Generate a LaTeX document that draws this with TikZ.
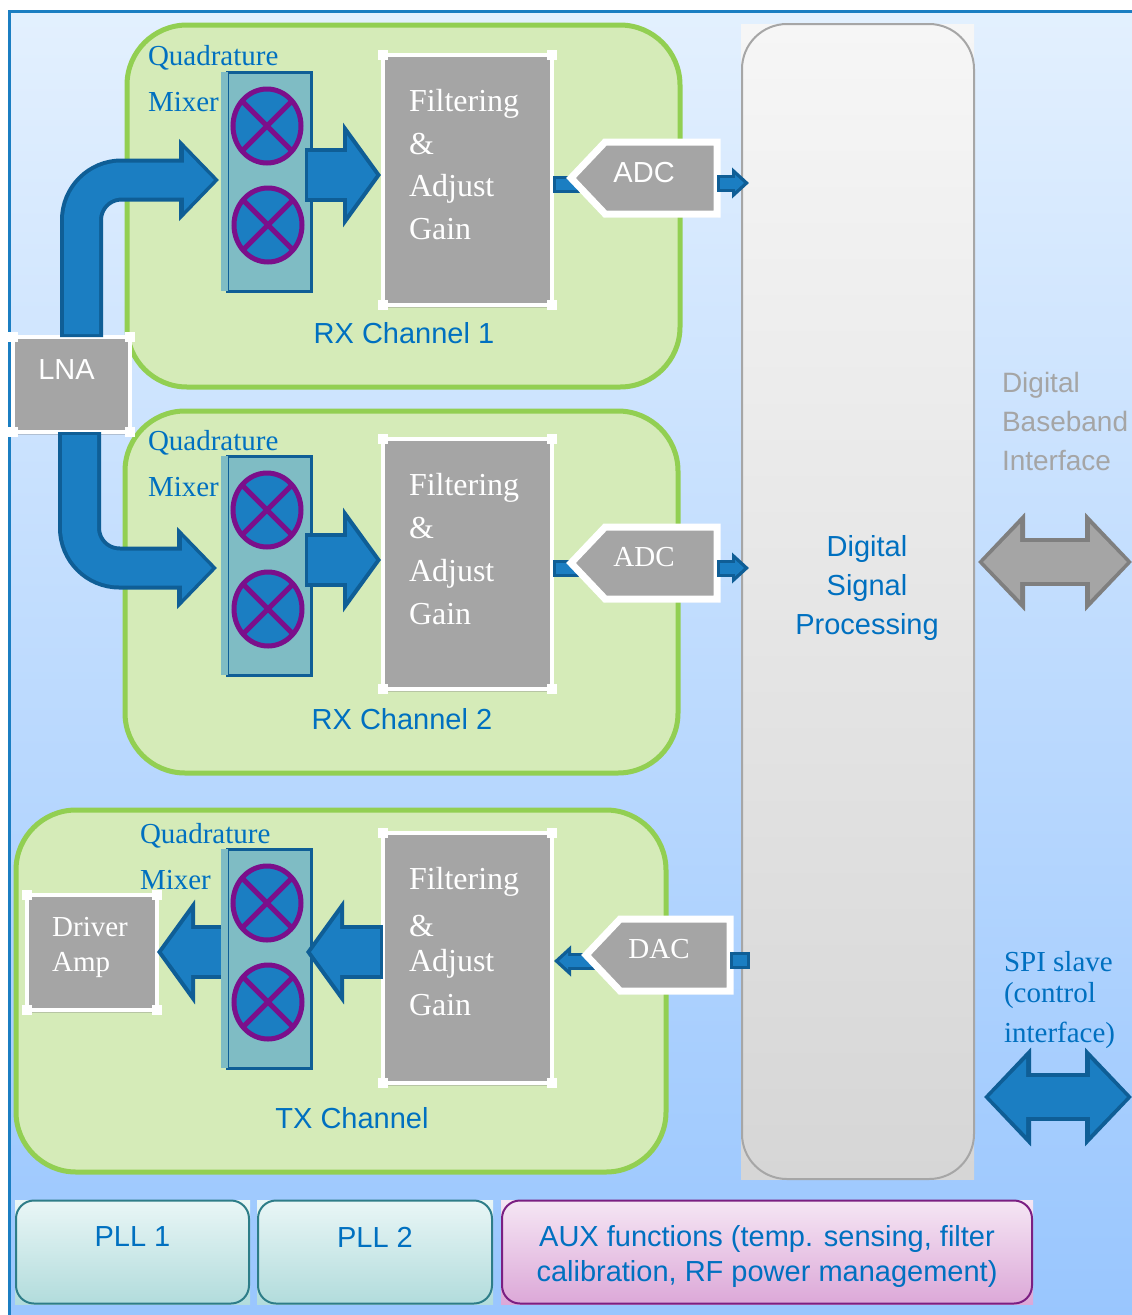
\documentclass[tikz,border=0pt]{standalone}
\usepackage{fontspec}
\setmainfont{Liberation Serif}
\setsansfont{Liberation Sans}
\usetikzlibrary{arrows.meta,shapes.geometric,shapes.symbols,shadows}
\definecolor{frameblue}{HTML}{1B7EC2}
\definecolor{skytop}{HTML}{E3F0FE}
\definecolor{skybottom}{HTML}{99C6FE}
\definecolor{panelfill}{HTML}{D5EBB8}
\definecolor{paneledge}{HTML}{92CF52}
\definecolor{textblue}{HTML}{0070C0}
\definecolor{blockgrey}{HTML}{A5A5A5}
\definecolor{arrowfill}{HTML}{1B7EC2}
\definecolor{arrowedge}{HTML}{0F5E96}
\definecolor{greyedge}{HTML}{7F7F7F}
\definecolor{mixerfill}{HTML}{7FBCC4}
\definecolor{multedge}{HTML}{7B0F8B}
\definecolor{dsptop}{HTML}{F6F6F6}
\definecolor{dspbottom}{HTML}{D6D6D6}
\definecolor{plltop}{HTML}{E9F6F6}
\definecolor{pllbottom}{HTML}{B2DCDC}
\definecolor{plledge}{HTML}{2E7D88}
\definecolor{auxtop}{HTML}{F5E6F4}
\definecolor{auxbottom}{HTML}{DCA8D8}
\definecolor{auxedge}{HTML}{7B1F82}

\begin{document}
\begin{tikzpicture}[x=1pt, y=-1pt, outer sep=0pt,
	panel/.style={rectangle, draw=paneledge, fill=panelfill, line width=5pt, rounded corners=60pt, minimum width=553pt, minimum height=362pt},
	bluetext/.style={text=textblue, font=\fontsize{29}{35}\selectfont\sffamily},
	quadtext/.style={text=textblue, font=\fontsize{29}{46}\selectfont\rmfamily, align=left, anchor=north west, inner sep=0pt},
	block/.style={rectangle, fill=blockgrey, draw=white, line width=4pt, text=white, drop shadow={opacity=.35, shadow xshift=1pt, shadow yshift=-3pt}},
	filter/.style={block, minimum width=169pt, minimum height=250pt, inner xsep=0pt, text width=117pt, align=left, font=\fontsize{32}{43}\selectfont\rmfamily},
	handle/.style={rectangle, fill=white, minimum size=10pt, inner sep=0pt},
	converter/.style={block, shape=signal, signal to=west, signal from=nowhere, signal pointer angle=93, line width=7pt, minimum width=146pt, minimum height=72pt, inner sep=0pt, text depth=12pt},
	mixer/.style={rectangle, fill=mixerfill, draw=arrowedge, line width=3pt, minimum width=84pt, minimum height=219pt},
	mixerback/.style={rectangle, fill=mixerfill, minimum width=5pt, minimum height=219pt},
	mult/.style={ellipse, fill=arrowfill, draw=multedge, line width=5pt, minimum width=68pt, minimum height=74pt, inner sep=0pt},
	blockarrow/.style n args={6}{draw=arrowfill, line width=#4pt, shorten >=5pt, shorten <=3pt, -{Triangle[length=#5pt, width=#6pt]},
		preaction={draw=arrowedge, line width=#1pt, shorten >=0pt, shorten <=0pt, -{Triangle[length=#2pt, width=#3pt]}}},
	bigarrow/.style={blockarrow={43}{40}{80}{35}{30}{60}, rounded corners=40pt},
	midarrow/.style={blockarrow={54}{38}{103}{46}{29}{78}},
	smallarrow/.style={blockarrow={17}{17}{30}{11}{9}{16}},
	stub/.style={draw=arrowfill, line width=11pt, shorten <=3pt, shorten >=3pt, preaction={draw=arrowedge, line width=17pt, shorten <=0pt, shorten >=0pt}},
	twoway/.style n args={2}{draw=#1, line width=40pt, shorten >=5pt, shorten <=5pt, {Triangle[length=37pt, width=74pt]}-{Triangle[length=37pt, width=74pt]},
		preaction={draw=#2, line width=48pt, shorten >=0pt, shorten <=0pt, {Triangle[length=47pt, width=96pt]}-{Triangle[length=47pt, width=96pt]}}},
	softbox/.style={rectangle, rounded corners=18pt, line width=2pt, minimum height=103pt, text=textblue, align=center, font=\fontsize{29}{35}\selectfont\sffamily}]
	\useasboundingbox (0,0) rectangle (1132,1315);
	\fill[white] (0,0) rectangle (1132,1315);
	\shade[top color=skytop, bottom color=skybottom] (9,11) rectangle (1132,1315);
	\draw[frameblue, line width=3pt] (9,1315) -- (9,11) -- (1132,11);

	\node[panel] (rx1) at (403.5,206) {};
	\node[panel] (rx2) at (401.5,592) {};
	\node[panel, minimum width=650pt] (tx) at (341,991) {};
	\node[bluetext] (rx1name) at (404,333) {RX Channel 1};
	\node[bluetext] (rx2name) at (402,719) {RX Channel 2};
	\node[bluetext] (txname) at (352,1118) {TX Channel};

	\shade[top color=dsptop, bottom color=dspbottom] (741,24) rectangle (974,1179);
	\node[rectangle, top color=dsptop, bottom color=dspbottom, draw=black!35, line width=2pt, rounded corners=45pt, minimum width=232pt, minimum height=1155pt] (dsp) at (858,601.5) {};
	\node[bluetext, align=center, font=\fontsize{29}{39}\selectfont\sffamily] (dspname) at (867,588) {Digital\\Signal\\Processing};

	\node[filter] (filt1) at (467.5,180) {Filtering\\\&\\[-1pt]Adjust\\Gain\\[-12pt]\mbox{}};
	\node[filter] (filt2) at (467.5,564) {Filtering\\\&\\Adjust\\Gain\\[-12pt]\mbox{}};
	\node[filter] (filt3) at (467.5,958) {Filtering\\[4pt]\&\\[-8pt]Adjust\\[1pt]Gain\\[-10pt]\mbox{}};

	\node[mixer] (mix1) at (269,181.5) {};
	\node[mixer] (mix2) at (269,565.5) {};
	\node[mixer] (mix3) at (269,958.5) {};

	\node[block, minimum width=117pt, minimum height=95pt, font=\fontsize{29}{35}\selectfont\sffamily, text depth=30pt] (lna) at (71.5,384.5) {\mbox{LNA\hspace{10pt}}};
	\node[block, minimum width=130pt, minimum height=115pt, align=left, font=\fontsize{29}{35}\selectfont\rmfamily] (driver) at (92,952) {\mbox{Driver\hspace{4pt}}\\Amp\\[-20pt]\mbox{}};

	\draw[bigarrow] ([xshift=10pt]lna.north) |- ([xshift=-8pt, yshift=1.5pt]mix1.west);
	\draw[bigarrow] ([xshift=8pt]lna.south) |- ([xshift=-10pt, yshift=-2.5pt]mix2.west);
	\draw[midarrow] ([xshift=-6pt, yshift=6.5pt]mix1.east) -- ([xshift=-2pt, yshift=5pt]filt1.west);
	\draw[midarrow] ([xshift=-6pt, yshift=5.5pt]mix2.east) -- ([xshift=-2pt, yshift=4pt]filt2.west);
	\draw[midarrow] ([yshift=6pt]filt3.west) -- ([xshift=-5pt, yshift=6.5pt]mix3.east);
	\draw[midarrow] (driver.east -| mix3.west) -- (driver.east);
	\node[mixerback] (back1) at (224.5,181.5) {};
	\node[mixerback] (back2) at (224.5,565.5) {};
	\node[mixerback] (back3) at (224.5,958.5) {};

	\foreach \n/\x/\y in {m1a/267/126, m1b/268/225, m2a/267/510, m2b/268/609, m3a/267/903, m3b/268/1002} {
		\node[mult] (\n) at (\x,\y) {};
		\draw[multedge, line width=5pt] (\n.135) -- (\n.-45);
		\draw[multedge, line width=5pt] (\n.45) -- (\n.-135);
	}

	\node[quadtext] (quad1) at (148,45) {Quadrature\\Mixer};
	\node[quadtext] (quad2) at (148,430) {Quadrature\\Mixer};
	\node[quadtext] (quad3) at (140,823) {Quadrature\\Mixer};

	\coordinate (adc1in) at (553,184);
	\coordinate (adc2in) at (553,568);
	\coordinate (adc1stub) at (580,184);
	\coordinate (adc2stub) at (580,568);
	\coordinate (dacin) at (600,961);
	\coordinate (dacout) at (554,961);
	\draw[stub] (adc1in) -- (adc1stub);
	\draw[stub] (adc2in) -- (adc2stub);
	\draw[smallarrow] (dacin) -- (dacout);

	\node[converter, font=\fontsize{29}{35}\selectfont\sffamily, anchor=east] (adc1) at (717,178) {\mbox{ADC\hspace{34pt}}};
	\node[converter, font=\fontsize{29}{35}\selectfont\rmfamily, anchor=east] (adc2) at (717,563) {\mbox{ADC\hspace{34pt}}};
	\node[converter, font=\fontsize{29}{35}\selectfont\rmfamily, minimum width=144pt, anchor=east] (dac) at (730,955) {\mbox{DAC\hspace{32pt}}};

	\draw[smallarrow] ([yshift=-5pt]adc1.east) -- ([xshift=32pt, yshift=-5pt]adc1.east);
	\draw[smallarrow] ([yshift=-5pt]adc2.east) -- ([xshift=32pt, yshift=-5pt]adc2.east);
	\draw[stub] ([yshift=-5pt]dac.east) -- ([xshift=20pt, yshift=-5pt]dac.east);

	\foreach \b in {filt1, filt2, filt3, lna, driver} {
		\node[handle] (\b-nw) at (\b.north west) {};
		\node[handle] (\b-ne) at (\b.north east) {};
		\node[handle] (\b-sw) at (\b.south west) {};
		\node[handle] (\b-se) at (\b.south east) {};
	}

	\coordinate (bbport) at (1132,562);
	\coordinate (spiport) at (1132,1097);
	\draw[twoway={blockgrey}{greyedge}] ([xshift=4pt]dsp.east |- bbport) -- (bbport);
	\draw[twoway={arrowfill}{arrowedge}] ([xshift=10pt]dsp.east |- spiport) -- (spiport);

	\node[text=blockgrey, font=\fontsize{28}{39}\selectfont\sffamily, align=left, anchor=west, inner sep=0pt] (bbname) at (1002,421) {Digital\\Baseband\\Interface};
	\node[text=textblue, font=\fontsize{29}{31}\selectfont\rmfamily, align=left, anchor=north west, inner sep=0pt] (spiname) at (1004,951) {SPI slave\\(control\\[9pt]interface)};

	\shade[top color=plltop, bottom color=pllbottom] (15,1200) rectangle (250,1304);
	\shade[top color=plltop, bottom color=pllbottom] (257,1200) rectangle (493,1304);
	\shade[top color=auxtop, bottom color=auxbottom] (501,1200) rectangle (1033,1304);
	\node[softbox, top color=plltop, bottom color=pllbottom, draw=plledge, minimum width=233pt, text depth=30pt] (pll1) at (132.5,1252) {PLL 1};
	\node[softbox, top color=plltop, bottom color=pllbottom, draw=plledge, minimum width=234pt, text depth=30pt] (pll2) at (375,1252) {PLL 2};
	\node[softbox, top color=auxtop, bottom color=auxbottom, draw=auxedge, minimum width=530pt] (aux) at (767,1252) {\rule{0pt}{30pt}AUX functions (temp. sensing, filter\\calibration, RF power management)};
\end{tikzpicture}
\end{document}
